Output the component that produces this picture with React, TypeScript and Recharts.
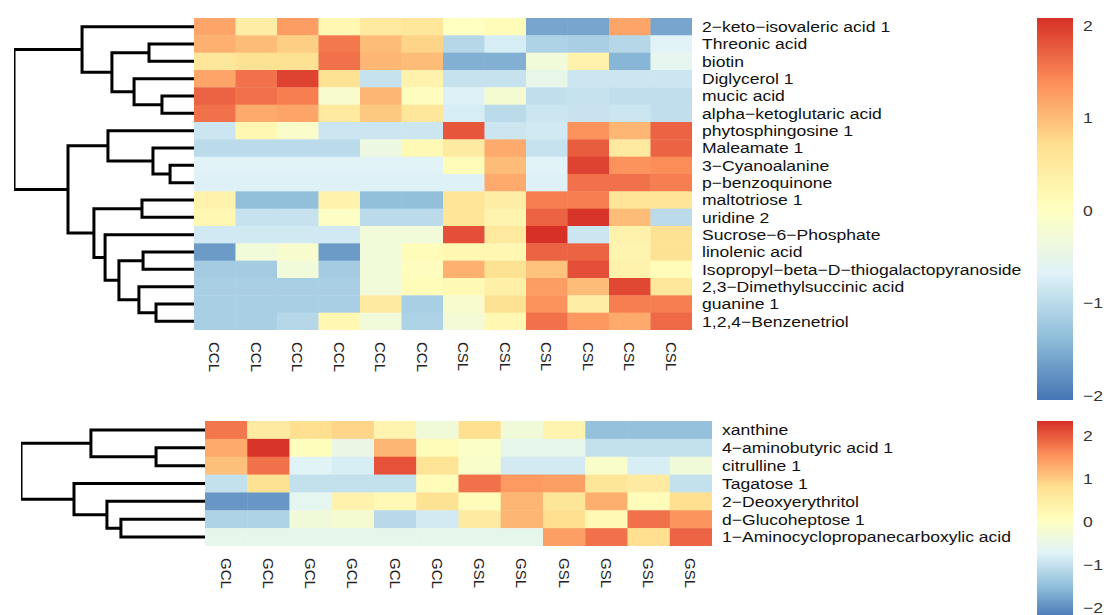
import React from "react";
import { ScatterChart, Scatter, XAxis, YAxis, BarChart, Bar } from "recharts";

const FONT = "'Liberation Sans', Arial, sans-serif";
// rev(RdYlBu, 7) as used by pheatmap
const PALETTE = ["#4575B4", "#91BFDB", "#E0F3F8", "#FFFFBF", "#FEE090", "#FC8D59", "#D73027"];

const topSamples = ["CCL", "CCL", "CCL", "CCL", "CCL", "CCL", "CSL", "CSL", "CSL", "CSL", "CSL", "CSL"];
const topRows = [
  "2−keto−isovaleric acid 1",
  "Threonic acid",
  "biotin",
  "Diglycerol 1",
  "mucic acid",
  "alpha−ketoglutaric acid",
  "phytosphingosine 1",
  "Maleamate 1",
  "3−Cyanoalanine",
  "p−benzoquinone",
  "maltotriose 1",
  "uridine 2",
  "Sucrose−6−Phosphate",
  "linolenic acid",
  "Isopropyl−beta−D−thiogalactopyranoside",
  "2,3−Dimethylsuccinic acid",
  "guanine 1",
  "1,2,4−Benzenetriol",
];
const topValues = [
  [1.2, 0.4, 1.25, 0.2, 0.5, 0.55, 0.0, 0.1, -1.6, -1.6, 1.2, -1.6],
  [1.1, 1.0, 0.85, 1.55, 1.0, 0.8, -1.05, -0.75, -1.1, -1.15, -1.05, -0.65],
  [0.55, 0.65, 0.65, 1.6, 1.05, 1.0, -1.5, -1.5, -0.3, 0.3, -1.45, -0.55],
  [1.2, 1.6, 1.95, 0.65, -0.9, 0.3, -0.9, -0.9, -0.5, -0.85, -0.85, -0.85],
  [1.7, 1.6, 1.5, -0.15, 1.05, 0.05, -0.7, -0.2, -0.95, -0.9, -0.95, -0.95],
  [1.6, 1.15, 1.2, 0.5, 0.9, 0.55, -0.75, -1.0, -0.85, -0.88, -0.85, -0.95],
  [-0.85, 0.2, -0.1, -0.85, -0.85, -0.85, 1.8, -0.85, -0.8, 1.35, 1.05, 1.7],
  [-1.0, -1.0, -1.0, -1.0, -0.4, 0.15, 0.45, 1.15, -0.9, 1.75, 0.5, 1.7],
  [-0.65, -0.65, -0.65, -0.65, -0.65, -0.65, 0.1, 1.0, -0.65, 1.95, 1.35, 1.4],
  [-0.7, -0.7, -0.7, -0.7, -0.7, -0.7, -0.7, 1.15, -0.7, 1.6, 1.6, 1.5],
  [0.3, -1.35, -1.35, 0.3, -1.35, -1.35, 0.6, 0.4, 1.5, 1.5, 0.6, 0.6],
  [0.2, -0.9, -0.9, -0.05, -1.0, -1.0, 0.6, 0.25, 1.7, 2.05, 1.0, -1.0],
  [-0.8, -0.8, -0.8, -0.8, -0.3, -0.3, 1.85, 0.5, 2.08, -0.85, 0.3, 0.65],
  [-1.7, -0.3, -0.15, -1.7, -0.3, 0.1, 0.2, 0.2, 1.7, 1.7, 0.25, 0.65],
  [-1.2, -1.2, -0.3, -1.2, -0.3, 0.05, 1.1, 0.65, 0.95, 1.85, 0.3, 0.1],
  [-1.15, -1.15, -1.15, -1.15, -0.3, 0.1, 0.15, 0.35, 1.25, 1.0, 1.9, 0.55],
  [-1.15, -1.15, -1.15, -1.15, 0.45, -1.15, -0.15, 0.65, 1.35, 0.4, 1.5, 1.5],
  [-1.15, -1.15, -1.05, 0.2, -0.3, -1.1, -0.25, 0.2, 1.6, 1.3, 1.15, 1.65],
];
// hclust-style merge table: negative = leaf (display order, 1-based), positive = earlier merge
const topMerge = [
  [-2, -3], [-5, -6], [-4, 2], [1, 3], [-1, 4],
  [-9, -10], [-8, 6], [-7, 7],
  [-11, -12], [-14, -15], [-17, -18], [-16, 11], [10, 12], [-13, 13], [9, 14],
  [8, 15], [5, 16],
];
const topHeight = [2.5, 1.78, 3.33, 4.56, 6.22, 1.33, 2.28, 4.78, 2.89, 2.83, 2.11, 3.06, 4.17, 4.94, 5.56, 7.0, 10];
const topRange = [-2.05, 2.08];

const bottomSamples = ["GCL", "GCL", "GCL", "GCL", "GCL", "GCL", "GSL", "GSL", "GSL", "GSL", "GSL", "GSL"];
const bottomRows = [
  "xanthine",
  "4−aminobutyric acid 1",
  "citrulline 1",
  "Tagatose 1",
  "2−Deoxyerythritol",
  "d−Glucoheptose 1",
  "1−Aminocyclopropanecarboxylic acid",
];
const bottomValues = [
  [1.75, 0.55, 0.8, 0.9, 0.3, -0.3, 0.8, -0.3, 0.3, -1.45, -1.45, -1.45],
  [1.3, 2.3, 0.1, -0.45, 1.2, 0.15, -0.05, -0.55, -0.55, -1.0, -1.0, -1.0],
  [1.1, 1.8, -0.7, -0.8, 2.05, 0.7, -0.1, -0.85, -0.85, -0.1, -0.8, -0.3],
  [-1.0, 0.75, -1.0, -1.0, -1.0, 0.15, 1.8, 1.45, 1.4, 0.65, 0.55, -1.0],
  [-1.9, -1.9, -0.6, 0.35, 0.2, 0.75, 0.15, 1.2, 0.65, 1.25, 0.15, 0.8],
  [-1.2, -1.2, -0.3, -0.2, -1.1, -0.85, 0.55, 1.2, 0.8, 0.2, 1.8, 1.5],
  [-0.55, -0.55, -0.55, -0.55, -0.55, -0.55, -0.55, -0.55, 1.4, 1.8, 0.8, 1.9],
];
const bottomMerge = [[-2, -3], [-1, 1], [-6, -7], [-5, 3], [-4, 4], [2, 5]];
const bottomHeight = [2.66, 6.2, 4.57, 5.33, 7.12, 10];
const bottomRange = [-2.25, 2.33];

const legendTicks = [-2, -1, 0, 1, 2];

function hexRgb(h: string) {
  const n = parseInt(h.slice(1), 16);
  return [(n >> 16) & 255, (n >> 8) & 255, n & 255];
}

function colorFor(v: number, range: number[]) {
  const t = Math.min(1, Math.max(0, (v - range[0]) / (range[1] - range[0]))) * (PALETTE.length - 1);
  const i = Math.min(PALETTE.length - 2, Math.floor(t));
  const f = t - i;
  const a = hexRgb(PALETTE[i]);
  const b = hexRgb(PALETTE[i + 1]);
  const c = a.map((x, k) => Math.round(x + (b[k] - x) * f));
  return `rgb(${c[0]},${c[1]},${c[2]})`;
}

// turn the merge table into one ⊐-shaped polyline per merge
function dendroPaths(merge: number[][], heights: number[]) {
  const pos: number[] = [];
  return merge.map(([a, b], k) => {
    const ya = a < 0 ? -a - 1 : pos[a - 1];
    const yb = b < 0 ? -b - 1 : pos[b - 1];
    const ha = a < 0 ? 0 : heights[a - 1];
    const hb = b < 0 ? 0 : heights[b - 1];
    const H = heights[k];
    pos[k] = (ya + yb) / 2;
    return [
      { h: ha, y: ya },
      { h: H, y: ya },
      { h: H, y: yb },
      { h: hb, y: yb },
    ];
  });
}

const NoDot = () => <g />;

function Dendrogram(props: any) {
  const { merge, heights, n, top, plotLeft, plotTop, plotW, plotH } = props;
  const paths = dendroPaths(merge, heights);
  const maxH = Math.max(...heights);
  return (
    <div style={{ position: "absolute", left: 0, top }}>
      <ScatterChart
        width={plotLeft + plotW + 4}
        height={plotTop + plotH + 4}
        margin={{ top: plotTop, left: plotLeft, right: 4, bottom: 4 }}
      >
        <XAxis type="number" dataKey="h" domain={[0, maxH]} reversed hide allowDataOverflow />
        <YAxis type="number" dataKey="y" domain={[-0.5, n - 0.5]} reversed hide allowDataOverflow />
        {paths.map((p, i) => (
          <Scatter
            key={i}
            data={p}
            fill="#000"
            line={{ stroke: "#000", strokeWidth: 3 }}
            lineType="joint"
            shape={NoDot}
            isAnimationActive={false}
          />
        ))}
      </ScatterChart>
    </div>
  );
}

function Heatmap(props: any) {
  const { rows, samples, values, range, left, top, plotTop, plotW, plotH, axisH } = props;
  const cellW = plotW / samples.length;
  const cellH = plotH / rows.length;
  const data = values.flatMap((row: number[], r: number) => row.map((v, c) => ({ c, r, v })));

  const CellShape = (p: any) => (
    <rect
      x={p.cx - cellW / 2}
      y={p.cy - cellH / 2}
      width={cellW + 0.4}
      height={cellH + 0.4}
      fill={colorFor(p.payload.v, range)}
    />
  );

  const ColTick = (p: any) => (
    <text
      transform={`translate(${p.x - 5.4},${p.y}) rotate(90)`}
      fontFamily={FONT}
      fontSize={15}
      fill="#222"
      textAnchor="start"
    >
      {samples[p.payload.value]}
    </text>
  );

  const RowTick = (p: any) => (
    <text
      transform={`translate(${p.x},${p.y + 5.3}) scale(1.17,1)`}
      fontFamily={FONT}
      fontSize={15}
      fill="#111"
      textAnchor="start"
    >
      {rows[p.payload.value]}
    </text>
  );

  return (
    <div style={{ position: "absolute", left, top }}>
      <ScatterChart
        width={plotW + 370}
        height={plotTop + plotH + axisH}
        margin={{ top: plotTop, right: 0, bottom: 0, left: 0 }}
      >
        <XAxis
          type="number"
          dataKey="c"
          domain={[-0.5, samples.length - 0.5]}
          ticks={samples.map((_: string, i: number) => i)}
          interval={0}
          height={axisH}
          tickSize={0}
          tickMargin={12}
          axisLine={false}
          tickLine={false}
          tick={ColTick}
          allowDataOverflow
        />
        <YAxis
          type="number"
          dataKey="r"
          orientation="right"
          reversed
          domain={[-0.5, rows.length - 0.5]}
          ticks={rows.map((_: string, i: number) => i)}
          interval={0}
          width={370}
          tickSize={0}
          tickMargin={10}
          axisLine={false}
          tickLine={false}
          tick={RowTick}
          allowDataOverflow
        />
        <Scatter data={data} shape={CellShape} isAnimationActive={false} />
      </ScatterChart>
    </div>
  );
}

function ColorKey(props: any) {
  const { id, range, left, top, plotTop, plotW, plotH } = props;
  const LegendTick = (p: any) => (
    <text
      transform={`translate(${p.x},${p.y + 5.3}) scale(1.17,1)`}
      fontFamily={FONT}
      fontSize={15}
      fill="#333"
      textAnchor="start"
    >
      {p.payload.value < 0 ? `−${Math.abs(p.payload.value)}` : p.payload.value}
    </text>
  );
  return (
    <div style={{ position: "absolute", left, top }}>
      <BarChart
        width={plotW + 40}
        height={plotTop + plotH + 12}
        data={[{ k: "key", span: range }]}
        margin={{ top: plotTop, right: 0, bottom: 12, left: 0 }}
        barCategoryGap={0}
      >
        <defs>
          <linearGradient id={id} x1="0" y1="0" x2="0" y2="1">
            {PALETTE.slice()
              .reverse()
              .map((c, i) => (
                <stop key={i} offset={i / (PALETTE.length - 1)} stopColor={c} />
              ))}
          </linearGradient>
        </defs>
        <XAxis dataKey="k" hide />
        <YAxis
          type="number"
          orientation="right"
          domain={range}
          ticks={legendTicks}
          interval={0}
          width={40}
          tickSize={0}
          tickMargin={10}
          axisLine={false}
          tickLine={false}
          tick={LegendTick}
          allowDataOverflow
        />
        <Bar dataKey="span" fill={`url(#${id})`} isAnimationActive={false} />
      </BarChart>
    </div>
  );
}

export default function App() {
  return (
    <div
      style={{
        position: "absolute",
        left: 0,
        top: 0,
        width: 1110,
        height: 615,
        overflow: "hidden",
        background: "#fff",
      }}
    >
      <Dendrogram merge={topMerge} heights={topHeight} n={topRows.length} top={0} plotLeft={14} plotTop={18} plotW={180} plotH={312} />
      <Heatmap
        rows={topRows}
        samples={topSamples}
        values={topValues}
        range={topRange}
        left={194}
        top={0}
        plotTop={18}
        plotW={498}
        plotH={312}
        axisH={50}
      />
      <ColorKey id="keyTop" range={topRange} left={1037} top={0} plotTop={18} plotW={36} plotH={382} />

      <Dendrogram merge={bottomMerge} heights={bottomHeight} n={bottomRows.length} top={400} plotLeft={21} plotTop={21} plotW={184} plotH={125} />
      <Heatmap
        rows={bottomRows}
        samples={bottomSamples}
        values={bottomValues}
        range={bottomRange}
        left={205}
        top={400}
        plotTop={21}
        plotW={507}
        plotH={125}
        axisH={60}
      />
      <ColorKey id="keyBottom" range={bottomRange} left={1037} top={400} plotTop={21} plotW={36} plotH={198} />
    </div>
  );
}
